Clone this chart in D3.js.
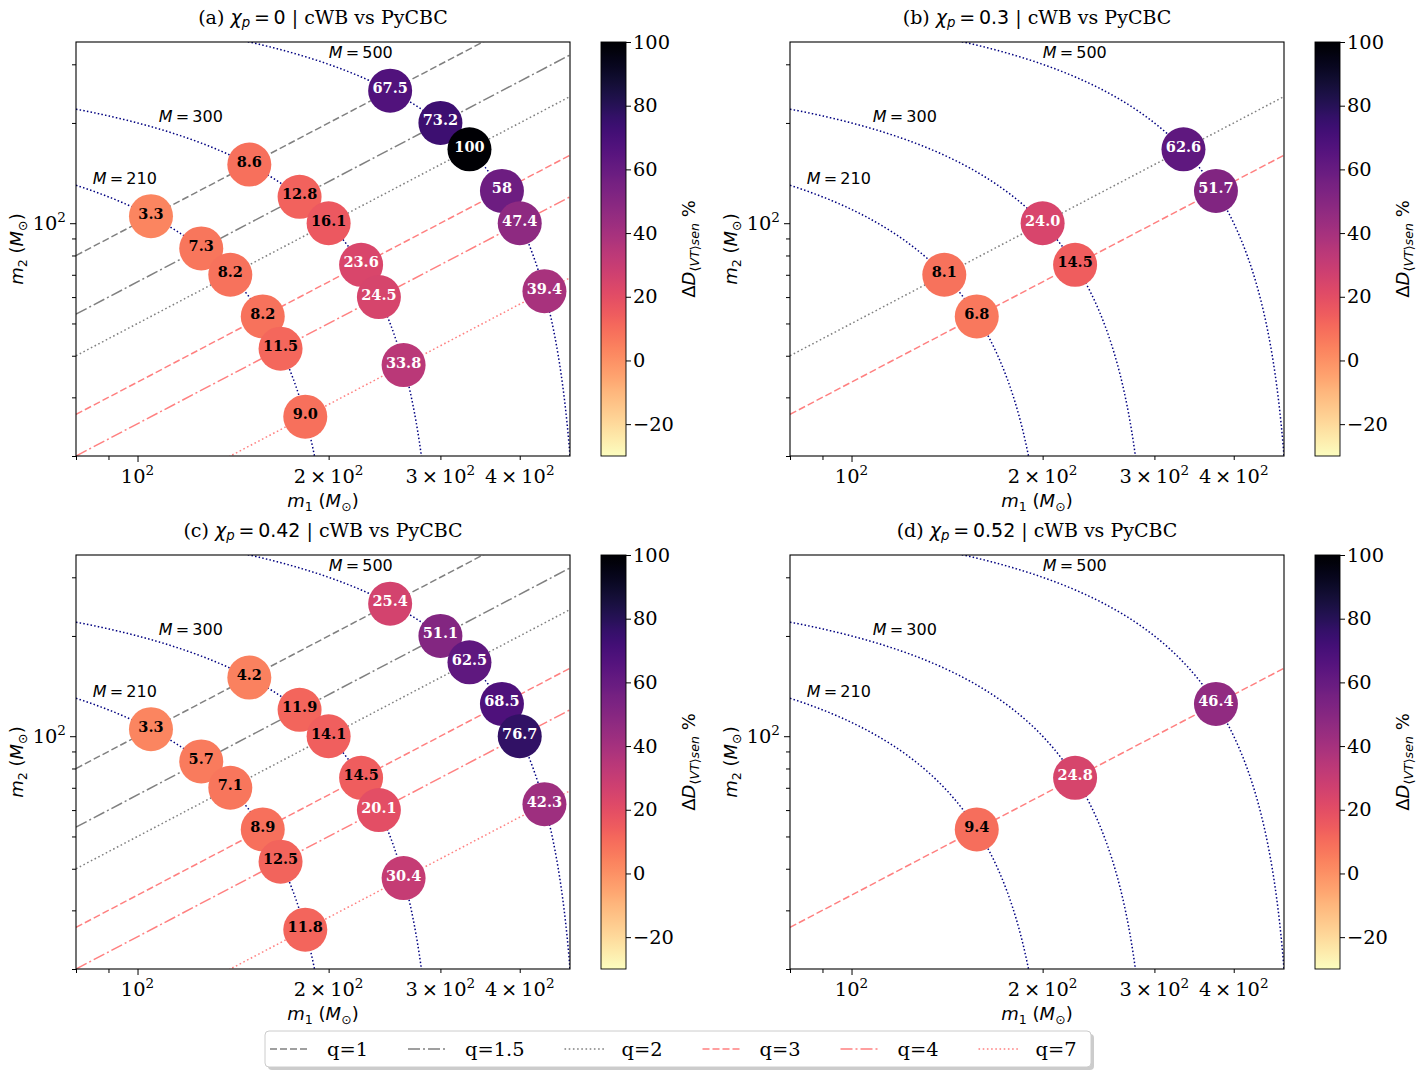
<!DOCTYPE html>
<html>
<head>
<meta charset="utf-8">
<script src="https://cdn.jsdelivr.net/npm/d3@7"></script>
<style>
  body { margin: 0; background: #fff; }
  svg { display: block; }
  text { white-space: pre; }
</style>
</head>
<body>
<svg id="fig" width="1418" height="1075"></svg>
<script>
// ---- data ----
const totalMasses = [210, 300, 500];
const massRatios = [1, 1.5, 2, 3, 4, 7];
const panelTags = ["(a)", "(b)", "(c)", "(d)"];
const chiP = ["0", "0.3", "0.42", "0.52"];
// q values plotted in each panel
const panelRatios = [[1, 1.5, 2, 3, 4, 7], [2, 3], [1, 1.5, 2, 3, 4, 7], [3]];
// Delta D values, ordered by total mass then by q (as printed)
const valuesA = ["3.3", "7.3", "8.2", "8.2", "11.5", "9.0",
                 "8.6", "12.8", "16.1", "23.6", "24.5", "33.8",
                 "67.5", "73.2", "100", "58", "47.4", "39.4"];
const valuesB = ["8.1", "6.8",
                 "24.0", "14.5",
                 "62.6", "51.7"];
const valuesC = ["3.3", "5.7", "7.1", "8.9", "12.5", "11.8",
                 "4.2", "11.9", "14.1", "14.5", "20.1", "30.4",
                 "25.4", "51.1", "62.5", "68.5", "76.7", "42.3"];
const valuesD = ["9.4", "24.8", "46.4"];
const panelValues = [valuesA, valuesB, valuesC, valuesD];
// where the M = ... labels sit (m1, m2)
const massLabelPos = [[85, 131], [108, 201], [200, 313]];
const xMajorTicks = [100];
const xMinorTicks = [80, 90, 200, 300, 400];
const xLabelTicks = [100, 200, 300, 400];
const yMajorTicks = [100];
const yMinorTicks = [20, 30, 40, 50, 60, 70, 80, 90, 200, 300];
const cbarTicks = [-20, 0, 20, 40, 60, 80, 100];

// ---- layout ----
const W = 494, H = 414;
const origins = [[76, 42], [790, 42], [76, 555], [790, 555]];
const serif = "DejaVu Serif", sans = "DejaVu Sans";

const x = d3.scaleLog().domain([80, 480]).range([0, W]);
const y = d3.scaleLog().domain([20, 350]).range([H, 0]);
const cb = d3.scaleLinear().domain([-30, 100]).range([H, 0]);
const color = v => d3.interpolateMagma(1 - (v + 30) / 130);

const qStyle = {
  1:   {stroke: "#808080", dash: "7,3"},
  1.5: {stroke: "#808080", dash: "12,3,2,3"},
  2:   {stroke: "#808080", dash: "1.6,2.6"},
  3:   {stroke: "#ff8080", dash: "7,3"},
  4:   {stroke: "#ff8080", dash: "12,3,2,3"},
  7:   {stroke: "#ff8080", dash: "1.6,2.6"}
};

const svg = d3.select("#fig");
const defs = svg.append("defs");

const grad = defs.append("linearGradient").attr("id", "cmap")
  .attr("x1", 0).attr("y1", 1).attr("x2", 0).attr("y2", 0);
d3.range(0, 1.0001, 0.02).forEach(t => {
  grad.append("stop").attr("offset", t).attr("stop-color", d3.interpolateMagma(1 - t));
});

const line = d3.line().x(d => x(d[0])).y(d => y(d[1]));

function sup(t, base, s, size) {
  t.append("tspan").text(base);
  t.append("tspan").attr("font-size", size * 0.7).attr("dy", -size * 0.42).text(s);
}

origins.forEach(([ox, oy], i) => {
  const g = svg.append("g").attr("transform", `translate(${ox},${oy})`);

  defs.append("clipPath").attr("id", "clip" + i)
    .append("rect").attr("width", W).attr("height", H);

  const lines = g.append("g").attr("clip-path", `url(#clip${i})`);

  // constant total mass curves
  const m1s = d3.range(0, 801).map(k => 80 * Math.pow(6, k / 800));
  totalMasses.forEach(M => {
    const pts = m1s.filter(m => M - m > 15).map(m => [m, M - m]);
    lines.append("path").attr("d", line(pts))
      .attr("fill", "none").attr("stroke", "#000080")
      .attr("stroke-width", 1.5).attr("stroke-dasharray", "1.5,2.2");
  });

  // constant mass ratio lines
  panelRatios[i].forEach(q => {
    lines.append("path").attr("d", line([[80, 80 / q], [480, 480 / q]]))
      .attr("fill", "none").attr("stroke", qStyle[q].stroke)
      .attr("stroke-width", 1.5).attr("stroke-dasharray", qStyle[q].dash);
  });

  // mass labels
  totalMasses.forEach((M, k) => {
    const t = g.append("text")
      .attr("x", x(massLabelPos[k][0])).attr("y", y(massLabelPos[k][1]))
      .attr("font-family", sans).attr("font-size", 16);
    t.append("tspan").attr("font-style", "italic").text("M");
    t.append("tspan").text("\u2009=\u2009" + M);
  });

  // points
  const pts = [];
  totalMasses.forEach(M => panelRatios[i].forEach(q => {
    pts.push({m1: M * q / (1 + q), m2: M / (1 + q)});
  }));
  pts.forEach((p, k) => { p.label = panelValues[i][k]; p.v = +p.label; });

  const dots = g.selectAll("g.dot").data(pts).enter().append("g").attr("class", "dot");
  dots.append("circle")
    .attr("cx", d => x(d.m1)).attr("cy", d => y(d.m2)).attr("r", 22)
    .attr("fill", d => color(d.v));
  dots.append("text")
    .attr("x", d => x(d.m1)).attr("y", d => y(d.m2) + 2.5)
    .attr("text-anchor", "middle")
    .attr("font-family", serif).attr("font-weight", "bold").attr("font-size", 14.5)
    .attr("fill", d => d.v >= 20 ? "#fff" : "#000")
    .text(d => d.label);

  // frame
  g.append("rect").attr("width", W).attr("height", H)
    .attr("fill", "none").attr("stroke", "#000").attr("stroke-width", 1.1);

  // ticks
  const tickG = (sel) => sel.call(s => s.select(".domain").remove())
    .selectAll("line").attr("stroke", "#000").attr("stroke-width", 1);
  g.append("g").attr("transform", `translate(0,${H})`)
    .call(d3.axisBottom(x).tickValues(xMajorTicks).tickSize(6).tickFormat("")).call(tickG);
  g.append("g").attr("transform", `translate(0,${H})`)
    .call(d3.axisBottom(x).tickValues(xMinorTicks).tickSize(4).tickFormat("")).call(tickG);
  g.append("g")
    .call(d3.axisLeft(y).tickValues(yMajorTicks).tickSize(6).tickFormat("")).call(tickG);
  g.append("g")
    .call(d3.axisLeft(y).tickValues(yMinorTicks).tickSize(4).tickFormat("")).call(tickG);

  const fs = 19.4;
  xLabelTicks.forEach(v => {
    const t = g.append("text").attr("x", x(v)).attr("y", H + 27)
      .attr("text-anchor", "middle").attr("font-family", serif).attr("font-size", fs);
    const c = v / 100;
    sup(t, (c === 1 ? "" : c + "\u2009\u00d7\u2009") + "10", "2", fs);
  });
  yMajorTicks.forEach(v => {
    const t = g.append("text").attr("x", -10).attr("y", y(v) + 7)
      .attr("text-anchor", "end").attr("font-family", serif).attr("font-size", fs);
    sup(t, "10", "2", fs);
  });

  // axis labels
  const lab = 18;
  const xl = g.append("text").attr("x", W / 2).attr("y", H + 51)
    .attr("text-anchor", "middle").attr("font-family", sans).attr("font-size", lab);
  xl.append("tspan").attr("font-style", "italic").text("m");
  xl.append("tspan").attr("font-size", lab * 0.7).attr("dy", 4).text("1");
  xl.append("tspan").attr("dy", -4).text(" (");
  xl.append("tspan").attr("font-style", "italic").text("M");
  xl.append("tspan").attr("font-size", lab * 0.7).attr("dy", 4).text("\u2299");
  xl.append("tspan").attr("dy", -4).text(")");

  const yl = g.append("text").attr("transform", `translate(-53,${H / 2}) rotate(-90)`)
    .attr("text-anchor", "middle").attr("font-family", sans).attr("font-size", lab);
  yl.append("tspan").attr("font-style", "italic").text("m");
  yl.append("tspan").attr("font-size", lab * 0.7).attr("dy", 4).text("2");
  yl.append("tspan").attr("dy", -4).text(" (");
  yl.append("tspan").attr("font-style", "italic").text("M");
  yl.append("tspan").attr("font-size", lab * 0.7).attr("dy", 4).text("\u2299");
  yl.append("tspan").attr("dy", -4).text(")");

  // title
  const ts = 19;
  const tt = g.append("text").attr("x", W / 2).attr("y", -18)
    .attr("text-anchor", "middle").attr("font-size", ts);
  tt.append("tspan").attr("font-family", serif).text(panelTags[i] + " ");
  tt.append("tspan").attr("font-family", sans).attr("font-style", "italic").text("\u03c7");
  tt.append("tspan").attr("font-family", sans).attr("font-style", "italic")
    .attr("font-size", ts * 0.7).attr("dy", 3).text("p");
  tt.append("tspan").attr("font-family", sans).attr("dy", -3).text("\u2009=\u2009" + chiP[i]);
  tt.append("tspan").attr("font-family", serif).text(" | cWB vs PyCBC");

  // colorbar
  const cg = g.append("g").attr("transform", `translate(525,0)`);
  cg.append("rect").attr("width", 25).attr("height", H).attr("fill", "url(#cmap)")
    .attr("stroke", "#000").attr("stroke-width", 0.9);
  cg.append("g").attr("transform", "translate(25,0)")
    .call(d3.axisRight(cb).tickValues(cbarTicks).tickSize(5)
      .tickFormat(d => d < 0 ? "\u2212" + Math.abs(d) : d))
    .call(s => s.select(".domain").remove())
    .call(s => s.selectAll("line").attr("stroke", "#000"))
    .call(s => s.selectAll("text").attr("font-family", serif).attr("font-size", fs)
      .attr("fill", "#000").attr("x", 7));

  const cs = 18;
  const cl = cg.append("text").attr("transform", `translate(94,${H / 2}) rotate(-90)`)
    .attr("text-anchor", "middle").attr("font-family", sans).attr("font-size", cs);
  cl.append("tspan").text("\u0394");
  cl.append("tspan").attr("font-style", "italic").text("D");
  cl.append("tspan").attr("font-size", cs * 0.7).attr("dy", 4).text("\u27e8");
  cl.append("tspan").attr("font-size", cs * 0.7).attr("font-style", "italic").text("VT");
  cl.append("tspan").attr("font-size", cs * 0.7).text("\u27e9");
  cl.append("tspan").attr("font-size", cs * 0.7).attr("font-style", "italic").text("sen");
  cl.append("tspan").attr("dy", -4).text(" %");
});

// legend
const legY = 1049;
const leg = svg.append("g");
leg.append("rect").attr("x", 268).attr("y", 1034).attr("width", 826).attr("height", 36)
  .attr("rx", 4).attr("fill", "#999").attr("opacity", 0.5);
leg.append("rect").attr("x", 265).attr("y", 1031).attr("width", 826).attr("height", 36)
  .attr("rx", 4).attr("fill", "#fff").attr("stroke", "#ccc").attr("stroke-width", 1);
let lx = 270;
massRatios.forEach(q => {
  leg.append("line").attr("x1", lx).attr("x2", lx + 40).attr("y1", legY).attr("y2", legY)
    .attr("stroke", qStyle[q].stroke).attr("stroke-width", 1.5)
    .attr("stroke-dasharray", qStyle[q].dash);
  const t = leg.append("text").attr("x", lx + 57).attr("y", legY + 7)
    .attr("font-family", serif).attr("font-size", 19.4).text("q=" + q);
  lx += 57 + t.node().getComputedTextLength() + 40;
});
</script>
</body>
</html>
